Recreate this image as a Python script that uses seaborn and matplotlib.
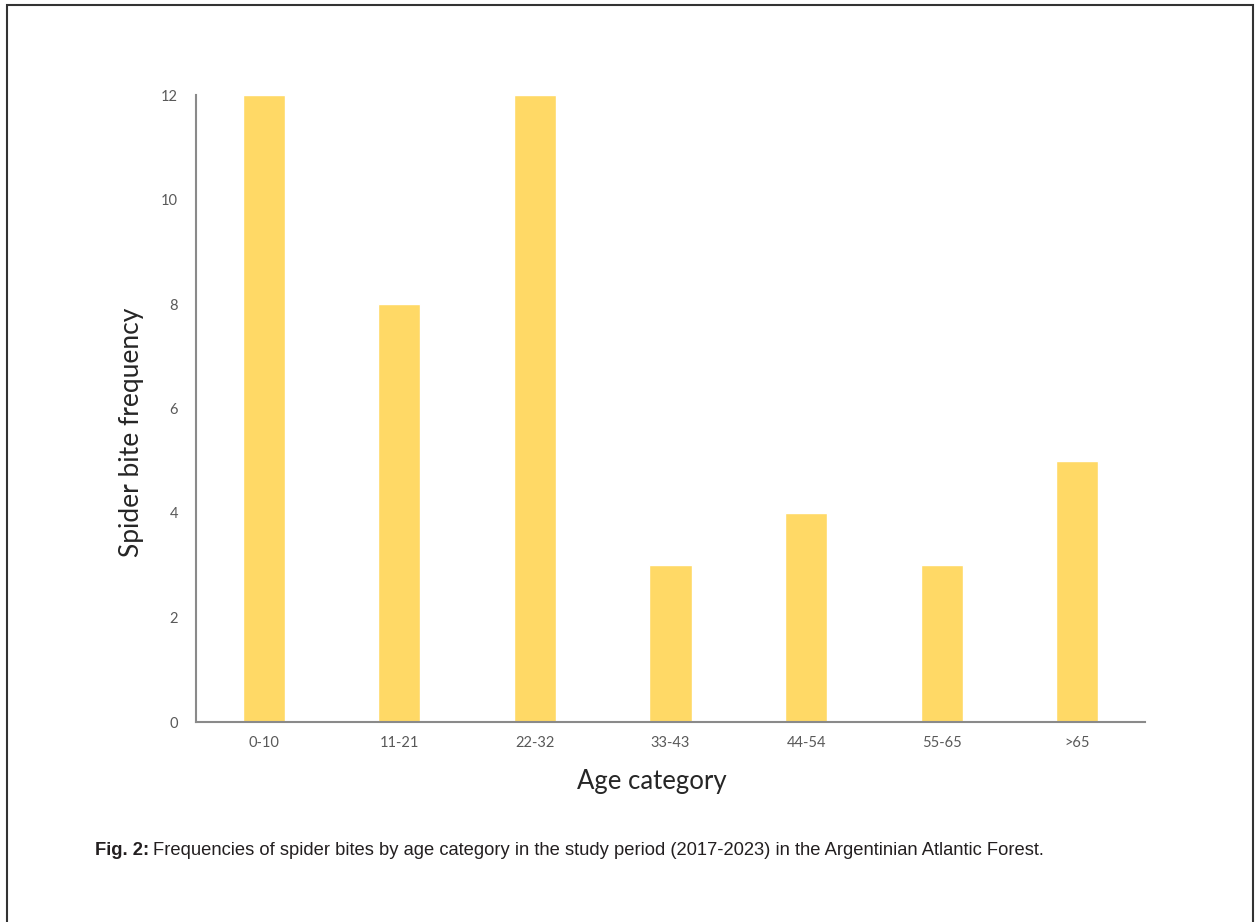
import matplotlib
matplotlib.use("Agg")
import matplotlib.pyplot as plt
from matplotlib import font_manager
import matplotlib.patches as mpatches
import seaborn as sns
import pandas as pd

categories = ["0-10", "11-21", "22-32", "33-43", "44-54", "55-65", ">65"]
frequencies = [12, 8, 12, 3, 4, 3, 5]
y_ticks = [0, 2, 4, 6, 8, 10, 12]

sns.set_theme(style="white")
plt.rcParams['font.family'] = ['Lato', 'DejaVu Sans']

names = {f.name for f in font_manager.fontManager.ttflist}
cap_font = 'Liberation Sans Narrow' if 'Liberation Sans Narrow' in names else 'Liberation Sans'
cap_size = 14 if cap_font == 'Liberation Sans Narrow' else 13.2

df = pd.DataFrame({"Age category": categories, "Frequency": frequencies})

fig = plt.figure(figsize=(12.55, 9.22), dpi=100)
ax = fig.add_axes([196/1255, 1-722/922, (1145-196)/1255, (722-95)/922])

sns.barplot(data=df, x="Age category", y="Frequency", color="#FFD966",
            saturation=1, width=0.31, ax=ax)

ax.set_xlim(-0.5, len(categories) - 0.5)
ax.set_ylim(0, 12)
ax.set_yticks(y_ticks)
ax.set_yticklabels([str(v) for v in y_ticks])
ax.tick_params(axis='both', length=0, labelsize=10.5, colors="#595959")
ax.tick_params(axis='y', pad=13)
ax.tick_params(axis='x', pad=10)

for s in ["top", "right"]:
    ax.spines[s].set_visible(False)
for s in ["left", "bottom"]:
    ax.spines[s].set_color("#8a8a8a")
    ax.spines[s].set_linewidth(1.5)

ax.set_xlabel("Age category", fontsize=18.5, color="#262626")
ax.set_ylabel("Spider bite frequency", fontsize=19, color="#262626")
ax.xaxis.label.set_va('center')
ax.yaxis.label.set_va('center')
ax.xaxis.set_label_coords((652-196)/949, (722-782)/627)
ax.yaxis.set_label_coords((132-196)/949, (722-432)/627)

t1 = fig.text(95/1255, 1-850/922, "Fig. 2:", fontsize=cap_size, fontweight='bold',
              family=cap_font, color="#231f20", va='center', ha='left')
fig.canvas.draw()
bb = t1.get_window_extent(renderer=fig.canvas.get_renderer())
x2 = (bb.x1 + 4) / fig.bbox.width
fig.text(x2, 1-850/922,
         "Frequencies of spider bites by age category in the study period (2017-2023) in the Argentinian Atlantic Forest.",
         fontsize=cap_size, family=cap_font, color="#231f20", va='center', ha='left')

rect = mpatches.Rectangle((7/1255, -0.05), (1253-7)/1255, 1.05 - 5/922,
                          transform=fig.transFigure, fill=False,
                          edgecolor="#333333", linewidth=1.5)
fig.patches.append(rect)

fig.savefig("out.png", dpi=100)
